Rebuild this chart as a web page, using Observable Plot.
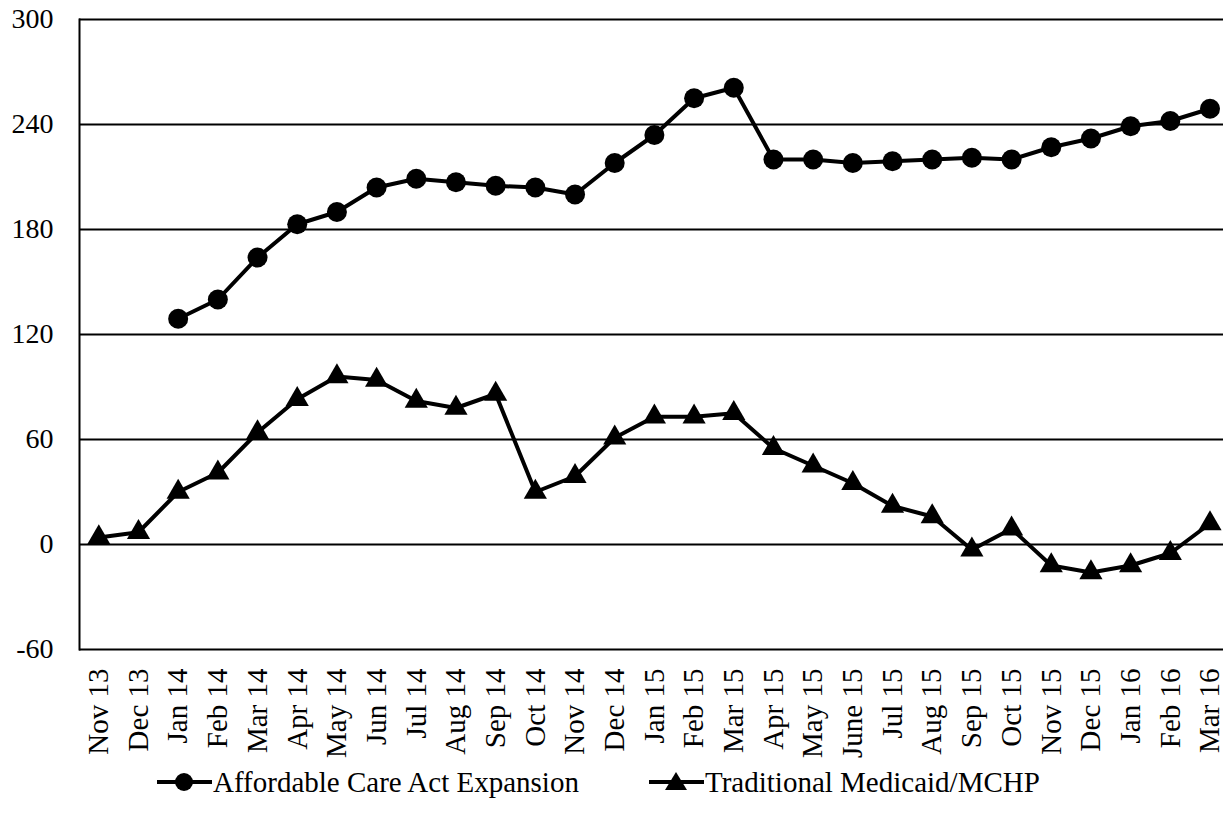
<!DOCTYPE html>
<html>
<head>
<meta charset="utf-8">
<script src="https://cdn.jsdelivr.net/npm/d3@7"></script>
<script src="https://cdn.jsdelivr.net/npm/@observablehq/plot@0.6"></script>
<style>
  html, body { margin: 0; padding: 0; background: #fff; overflow: hidden; }
  #wrap { position: relative; width: 1223px; height: 827px; font-family: "Liberation Serif", "Times New Roman", serif; }
  #legend { position: absolute; left: 0; top: 762px; width: 1223px; height: 40px; font-size: 29px; color: #000; }
  .item { position: absolute; top: 0; display: flex; align-items: center; height: 40px; }
  .item svg { display: block; }
</style>
</head>
<body>
<div id="wrap">
  <div id="chart"></div>
  <div id="legend"></div>
</div>
<script>
const months = ["Nov 13","Dec 13","Jan 14","Feb 14","Mar 14","Apr 14","May 14","Jun 14","Jul 14","Aug 14","Sep 14","Oct 14","Nov 14","Dec 14","Jan 15","Feb 15","Mar 15","Apr 15","May 15","June 15","Jul 15","Aug 15","Sep 15","Oct 15","Nov 15","Dec 15","Jan 16","Feb 16","Mar 16"];
const acaExpansion = [null,null,129,140,164,183,190,204,209,207,205,204,200,218,234,255,261,220,220,218,219,220,221,220,227,232,239,242,249];
const traditional = [4,7,30,41,64,83,96,94,82,78,86,30,39,61,73,73,75,55,45,35,22,16,-3,9,-12,-16,-12,-5,12];
const yTicks = [-60,0,60,120,180,240,300];
const seriesNames = ["Affordable Care Act Expansion","Traditional Medicaid/MCHP"];

const acaData = months.map((m,i)=>({month:m, value:acaExpansion[i]})).filter(d=>d.value!=null);
const tradData = months.map((m,i)=>({month:m, value:traditional[i]}));

const chart = Plot.plot({
  width: 1223,
  height: 764,
  marginLeft: 79,
  marginRight: 0,
  marginTop: 19,
  marginBottom: 115,
  style: {fontFamily: '"Liberation Serif", "Times New Roman", serif', fontSize: "28px", color: "#000", background: "#fff", overflow: "visible"},
  x: {type: "point", domain: months, range: [98.3, 1209.5], padding: 0, round: false},
  y: {domain: [-60, 300]},
  marks: [
    Plot.ruleY(yTicks, {stroke: "#000", strokeWidth: 1.8}),
    Plot.frame({anchor: "left", stroke: "#000", strokeWidth: 2}),
    Plot.axisY(yTicks, {tickSize: 0, tickPadding: 26, label: null, fontSize: 28, tickFormat: d => String(d)}),
    Plot.axisX(months, {tickSize: 0, tickPadding: 19, tickRotate: -90, label: null, fontSize: 29}),
    Plot.line(acaData, {x: "month", y: "value", stroke: "#000", strokeWidth: 4}),
    Plot.dot(acaData, {x: "month", y: "value", r: 10, fill: "#000", stroke: "none"}),
    Plot.line(tradData, {x: "month", y: "value", stroke: "#000", strokeWidth: 4}),
    Plot.dot(tradData, {x: "month", y: "value", symbol: "triangle", r: 8.6, fill: "#000", stroke: "none"})
  ]
});
document.getElementById("chart").appendChild(chart);

const legend = document.getElementById("legend");
const items = [
  {name: seriesNames[0], left: 156, marker: '<circle cx="28" cy="20" r="9" fill="#000"/>'},
  {name: seriesNames[1], left: 648, marker: '<path d="M28,10 L39,28 L17,28 Z" fill="#000"/>'}
];
for (const it of items) {
  const div = document.createElement("div");
  div.className = "item";
  div.style.left = it.left + "px";
  div.innerHTML = '<svg width="57" height="40"><line x1="1" x2="56" y1="20" y2="20" stroke="#000" stroke-width="4"/>' + it.marker + '</svg><span>' + it.name + '</span>';
  legend.appendChild(div);
}
</script>
</body>
</html>
